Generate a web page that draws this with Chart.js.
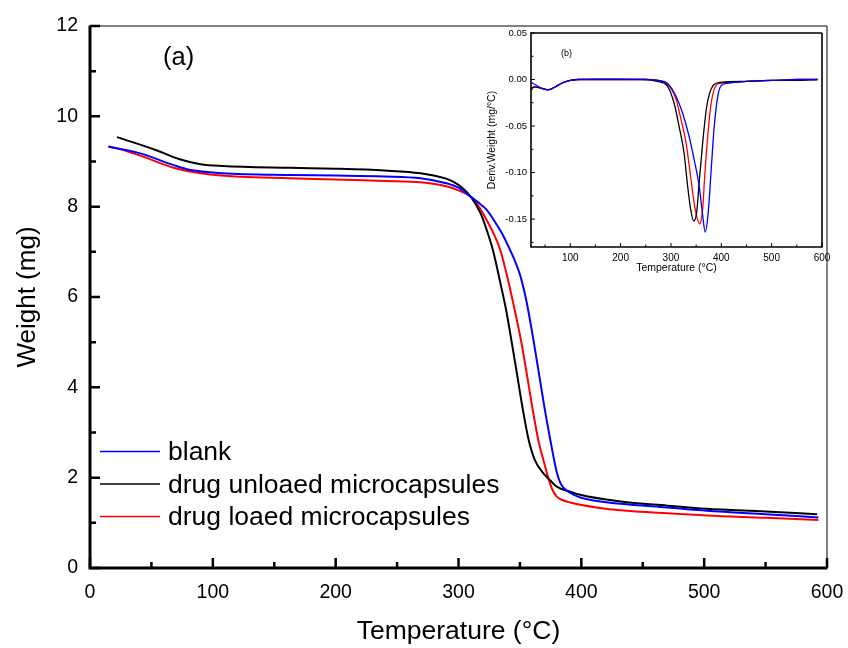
<!DOCTYPE html>
<html>
<head>
<meta charset="utf-8">
<script src="https://cdn.jsdelivr.net/npm/chart.js@4"></script>
<style>
  body { margin: 0; background: #fff; }
  #wrap { position: relative; width: 848px; height: 648px; }
  #inset { position: absolute; left: 470px; top: 25px; }
</style>
</head>
<body>
<div id="wrap">
  <canvas id="main" width="848" height="648"></canvas>
  <canvas id="inset" width="370" height="265"></canvas>
</div>
<script>
// series names + colours
const seriesNames = ['blank', 'drug unloaed microcapsules', 'drug loaed microcapsules'];
const seriesColors = ['#0000ff', '#000000', '#ff0000'];

// TGA curves (a): temperature (C) and weight (mg)
const tempBlank = [15, 41, 68, 82, 108, 163, 200, 240, 269, 290, 300, 310, 318, 323, 330, 336, 342, 345, 350, 355, 361, 366, 370, 375, 380, 383, 386, 390, 394, 399, 432, 470, 502, 550, 593];
const weightBlank = [9.33, 9.18, 8.92, 8.81, 8.74, 8.70, 8.69, 8.67, 8.63, 8.52, 8.42, 8.22, 8.05, 7.93, 7.65, 7.38, 7.04, 6.86, 6.50, 5.95, 5.05, 4.22, 3.55, 2.80, 2.12, 1.88, 1.76, 1.68, 1.62, 1.56, 1.42, 1.34, 1.27, 1.19, 1.12];

const tempUnloaded = [22, 54, 73, 90, 108, 163, 200, 240, 269, 290, 296, 303, 310, 318, 323, 328, 334, 339, 343, 347, 352, 357, 362, 369, 375, 380, 391, 399, 432, 470, 502, 550, 592];
const weightUnloaded = [9.54, 9.25, 9.05, 8.94, 8.90, 8.86, 8.84, 8.80, 8.74, 8.62, 8.55, 8.42, 8.22, 7.85, 7.48, 7.04, 6.32, 5.68, 5.05, 4.40, 3.57, 2.85, 2.40, 2.10, 1.93, 1.80, 1.69, 1.62, 1.47, 1.38, 1.31, 1.25, 1.19];

const tempLoaded = [15, 22, 41, 68, 90, 122, 163, 200, 240, 269, 290, 300, 310, 317, 323, 330, 334, 341, 346, 351, 356, 360, 365, 369, 372, 376, 380, 385, 391, 399, 415, 432, 470, 502, 550, 593];
const weightLoaded = [9.33, 9.29, 9.13, 8.86, 8.74, 8.66, 8.63, 8.60, 8.57, 8.54, 8.45, 8.36, 8.22, 7.98, 7.70, 7.32, 7.04, 6.30, 5.68, 5.02, 4.23, 3.57, 2.83, 2.40, 2.10, 1.76, 1.58, 1.50, 1.45, 1.40, 1.33, 1.28, 1.21, 1.16, 1.11, 1.06];

// DTG curves (b): deriv. weight (mg/C)
const dtgTempBlank = [22, 35, 45, 58, 70, 83, 100, 115, 150, 200, 250, 275, 293, 310, 323, 336, 346, 356, 363, 368, 374, 380, 386, 393, 399, 412, 450, 500, 550, 591];
const dtgBlank = [-0.003, -0.007, -0.010, -0.011, -0.008, -0.004, -0.001, 0, 0.0005, 0.0005, 0, -0.001, -0.004, -0.018, -0.036, -0.061, -0.086, -0.114, -0.146, -0.164, -0.143, -0.096, -0.050, -0.018, -0.007, -0.004, -0.002, -0.001, 0, 0];

const dtgTempUnloaded = [22, 28, 40, 55, 70, 83, 100, 115, 150, 200, 250, 273, 293, 306, 316, 326, 333, 339, 345, 351, 356, 363, 371, 383, 399, 450, 500, 550, 591];
const dtgUnloaded = [-0.010, -0.008, -0.009, -0.011, -0.008, -0.004, -0.001, 0, 0, 0, 0, -0.002, -0.007, -0.025, -0.050, -0.079, -0.114, -0.139, -0.152, -0.143, -0.111, -0.068, -0.029, -0.007, -0.003, -0.002, -0.001, -0.001, 0];

const dtgTempLoaded = [22, 28, 40, 55, 70, 83, 100, 115, 150, 200, 250, 275, 293, 310, 320, 330, 339, 347, 357, 363, 367, 373, 380, 390, 399, 450, 500, 550, 591];
const dtgLoaded = [-0.012, -0.008, -0.009, -0.011, -0.008, -0.004, -0.001, 0, 0, 0, 0, -0.001, -0.005, -0.021, -0.043, -0.068, -0.104, -0.136, -0.155, -0.139, -0.104, -0.061, -0.025, -0.006, -0.004, -0.002, -0.001, 0, 0];

const FONT = '"Liberation Sans", Arial, sans-serif';

function pts(xs, ys) {
  return xs.map((x, i) => ({ x: x, y: ys[i] }));
}

function makeSets(pairs, width) {
  return pairs.map((p, i) => ({
    label: seriesNames[i],
    data: pts(p[0], p[1]),
    borderColor: seriesColors[i],
    borderWidth: width,
    pointRadius: 0,
    fill: false,
    cubicInterpolationMode: 'monotone'
  }));
}

// axis box sizes fixed so the plot area lands where the original has it
function fixX(h) {
  return s => { s.height = h; s.paddingLeft = 0; s.paddingRight = 0; };
}
function fixY(w) {
  return s => { s.width = w; s.paddingTop = 0; s.paddingBottom = 0; };
}

// frame with inward ticks (origin style)
const frame = {
  id: 'frame',
  afterDraw(chart, args, o) {
    const { ctx, chartArea: a, scales: { x, y } } = chart;
    ctx.save();
    ctx.strokeStyle = '#000';
    ctx.lineCap = 'butt';
    // top + right
    ctx.lineWidth = o.thin;
    ctx.beginPath();
    ctx.moveTo(a.left, a.top); ctx.lineTo(a.right, a.top);
    ctx.moveTo(a.right, a.top); ctx.lineTo(a.right, a.bottom);
    ctx.stroke();
    // left + bottom
    ctx.lineWidth = o.thick;
    ctx.beginPath();
    ctx.moveTo(a.left, a.top - o.thin / 2); ctx.lineTo(a.left, a.bottom);
    ctx.moveTo(a.left - o.thick / 2, a.bottom); ctx.lineTo(a.right + o.thin / 2, a.bottom);
    ctx.stroke();
    // ticks
    ctx.lineWidth = o.tickWidth;
    ctx.beginPath();
    for (let k = Math.ceil(x.min / o.xStep - 1e-9); k * o.xStep <= x.max + 1e-9; k++) {
      const px = x.getPixelForValue(k * o.xStep);
      const len = k % o.xRatio === 0 ? o.major : o.minor;
      ctx.moveTo(px, a.bottom); ctx.lineTo(px, a.bottom - len);
    }
    for (let k = Math.ceil(y.min / o.yStep - 1e-9); k * o.yStep <= y.max + 1e-9; k++) {
      const py = y.getPixelForValue(k * o.yStep);
      const len = k % o.yRatio === 0 ? o.major : o.minor;
      ctx.moveTo(a.left, py); ctx.lineTo(a.left + len, py);
    }
    ctx.stroke();
    ctx.restore();
  }
};

// legend rows + panel label
const notes = {
  id: 'notes',
  afterDraw(chart, args, o) {
    const ctx = chart.ctx;
    ctx.save();
    ctx.fillStyle = '#000';
    ctx.textBaseline = 'alphabetic';
    ctx.textAlign = 'left';
    ctx.font = o.labelFont;
    ctx.fillText(o.label, o.labelX, o.labelY);
    if (o.legend) {
      ctx.font = o.legendFont;
      chart.data.datasets.forEach((ds, i) => {
        const yy = o.legendY[i];
        ctx.strokeStyle = ds.borderColor;
        ctx.lineWidth = 1.5;
        ctx.beginPath();
        ctx.moveTo(o.legendX, yy); ctx.lineTo(o.legendX + o.lineLen, yy);
        ctx.stroke();
        ctx.fillText(ds.label, o.legendX + o.lineLen + 8, yy + 8.5);
      });
    }
    ctx.restore();
  }
};

new Chart(document.getElementById('main'), {
  type: 'line',
  data: {
    datasets: makeSets([[tempBlank, weightBlank], [tempUnloaded, weightUnloaded], [tempLoaded, weightLoaded]], 2)
  },
  options: {
    responsive: false,
    animation: false,
    layout: { padding: { top: 26, right: 21, left: 0, bottom: 0 } },
    plugins: {
      legend: { display: false },
      tooltip: { enabled: false },
      frame: { thin: 1, thick: 3, tickWidth: 2.5, major: 10, minor: 6, xStep: 50, xRatio: 2, yStep: 1, yRatio: 2 },
      notes: {
        label: '(a)', labelX: 163, labelY: 65, labelFont: '25.5px ' + FONT,
        legend: true, legendX: 100, lineLen: 60, legendY: [451.5, 484, 516.5], legendFont: '26.5px ' + FONT
      }
    },
    scales: {
      x: {
        type: 'linear', min: 0, max: 600,
        afterFit: fixX(80),
        grid: { display: false, drawTicks: false }, border: { display: false },
        ticks: { stepSize: 100, padding: 13, color: '#000', font: { family: FONT, size: 19.5 }, maxRotation: 0 },
        title: { display: true, text: 'Temperature (°C)', color: '#000', font: { family: FONT, size: 26.5 }, padding: { top: 0, bottom: 0 } }
      },
      y: {
        type: 'linear', min: 0, max: 12,
        afterFit: fixY(90),
        grid: { display: false, drawTicks: false }, border: { display: false },
        ticks: { stepSize: 2, padding: 12, color: '#000', font: { family: FONT, size: 19.5 } },
        title: { display: true, text: 'Weight (mg)', color: '#000', font: { family: FONT, size: 26 }, padding: { top: 12, bottom: 0 } }
      }
    }
  },
  plugins: [frame, notes]
});

new Chart(document.getElementById('inset'), {
  type: 'line',
  data: {
    datasets: makeSets([[dtgTempBlank, dtgBlank], [dtgTempUnloaded, dtgUnloaded], [dtgTempLoaded, dtgLoaded]], 1.3)
  },
  options: {
    responsive: false,
    animation: false,
    layout: { padding: { top: 8, right: 18, left: 0, bottom: 0 } },
    plugins: {
      legend: { display: false },
      tooltip: { enabled: false },
      frame: { thin: 1.6, thick: 1.6, tickWidth: 1, major: 4, minor: 2.5, xStep: 50, xRatio: 2, yStep: 0.025, yRatio: 2 },
      notes: { label: '(b)', labelX: 91, labelY: 31, labelFont: '9px ' + FONT, legend: false }
    },
    scales: {
      x: {
        type: 'linear', min: 22, max: 600,
        afterFit: fixX(43),
        grid: { display: false, drawTicks: false }, border: { display: false },
        ticks: { stepSize: 100, includeBounds: false, padding: 5, color: '#000', font: { family: FONT, size: 10 }, maxRotation: 0 },
        title: { display: true, text: 'Temperature (°C)', color: '#000', font: { family: FONT, size: 10.5 }, padding: { top: 0, bottom: 16 } }
      },
      y: {
        type: 'linear', min: -0.18, max: 0.05,
        afterFit: fixY(61),
        grid: { display: false, drawTicks: false }, border: { display: false },
        ticks: { stepSize: 0.05, includeBounds: false, padding: 4, color: '#000', font: { family: FONT, size: 9.5 }, callback: v => v.toFixed(2) },
        title: { display: true, text: 'Deriv.Weight (mg/°C)', color: '#000', font: { family: FONT, size: 10.5 }, padding: { top: 16, bottom: 0 } }
      }
    }
  },
  plugins: [frame, notes]
});
</script>
</body>
</html>
